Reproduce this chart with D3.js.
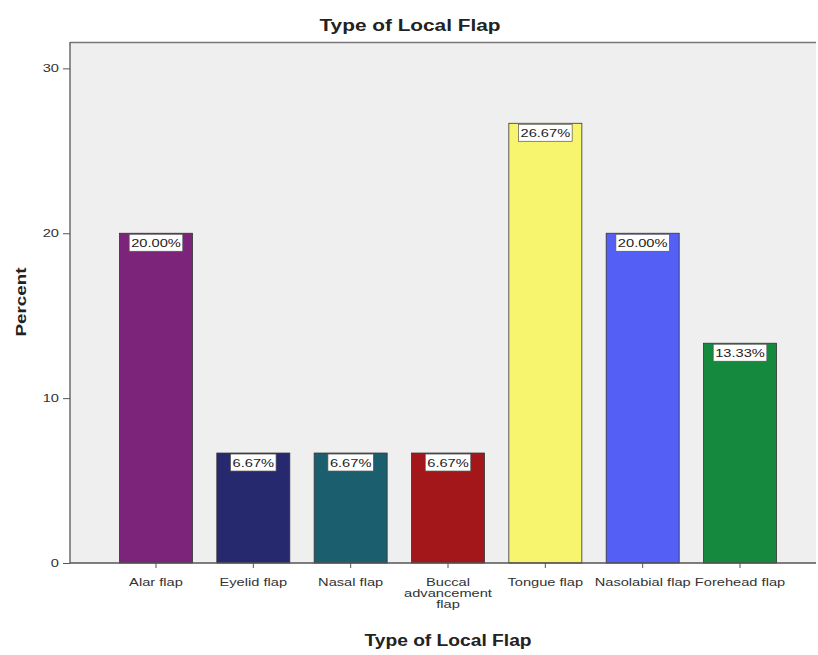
<!DOCTYPE html>
<html>
<head>
<meta charset="utf-8">
<script src="https://cdn.jsdelivr.net/npm/d3@7"></script>
<style>
  body { margin: 0; background: #fff; }
  text { font-family: Arial, "Liberation Sans", sans-serif; }
</style>
</head>
<body>
<script>
var width = 818;
var height = 655;

var categories = ["Alar flap", "Eyelid flap", "Nasal flap", "Buccal advancement flap", "Tongue flap", "Nasolabial flap", "Forehead flap"];
var catLines = [["Alar flap"], ["Eyelid flap"], ["Nasal flap"], ["Buccal", "advancement", "flap"], ["Tongue flap"], ["Nasolabial flap"], ["Forehead flap"]];
var percents = [20.00, 6.67, 6.67, 6.67, 26.67, 20.00, 13.33];
var colors = ["#7b2479", "#27296f", "#1b5e6e", "#a3171b", "#f7f56e", "#5460f5", "#15893e"];
var yTicks = [0, 10, 20, 30];

var plotLeft = 70, plotRight = 816, plotTop = 42, plotBottom = 563;
var stretchK = 1.33; // text in the picture is drawn wide

// widen text horizontally
function stretch(sel, k) {
    sel.each(function () {
        var w = this.getComputedTextLength();
        d3.select(this).attr("textLength", w * k).attr("lengthAdjust", "spacingAndGlyphs");
    });
}

var svg = d3.select("body").append("svg").attr("width", width).attr("height", height);

// plot background
svg.append("rect").attr("x", plotLeft).attr("y", plotTop)
    .attr("width", plotRight - plotLeft).attr("height", plotBottom - plotTop)
    .attr("fill", "#efefef");
svg.append("line").attr("x1", plotLeft).attr("x2", plotRight).attr("y1", plotTop + 0.5).attr("y2", plotTop + 0.5)
    .attr("stroke", "#777").attr("stroke-width", 1.5);

var y = d3.scaleLinear().domain([0, 31.6]).range([plotBottom, plotTop]);
var x = d3.scaleBand().domain(categories).range([107.3, 788.7]).paddingInner(0.25).paddingOuter(0.125);

// bars
svg.selectAll("rect.bar").data(percents).enter().append("rect")
    .attr("class", "bar")
    .attr("x", function (d, i) { return x(categories[i]); })
    .attr("y", function (d) { return y(d); })
    .attr("width", x.bandwidth())
    .attr("height", function (d) { return y(0) - y(d); })
    .attr("fill", function (d, i) { return colors[i]; })
    .attr("stroke", "#333")
    .attr("stroke-width", 0.8);

// value labels: white box sized to the text
var labels = svg.selectAll("g.lbl").data(percents).enter().append("g").attr("class", "lbl")
    .attr("transform", function (d, i) {
        return "translate(" + (x(categories[i]) + x.bandwidth() / 2) + "," + y(d) + ")";
    });
var boxes = labels.append("rect").attr("y", 1).attr("height", 17)
    .attr("fill", "#fff").attr("stroke", "#555").attr("stroke-width", 0.7);
labels.append("text").attr("y", 14).attr("text-anchor", "middle")
    .attr("font-size", "11px").attr("fill", "#222")
    .text(function (d) { return d.toFixed(2) + "%"; })
    .call(stretch, stretchK)
    .each(function () {
        var w = +d3.select(this).attr("textLength") + 4;
        d3.select(this.parentNode).select("rect").attr("x", -w / 2).attr("width", w);
    });

// y axis
var yAxis = d3.axisLeft(y).tickValues(yTicks).tickSize(7).tickPadding(4).tickSizeOuter(0);
var gy = svg.append("g").attr("transform", "translate(" + plotLeft + ",0)").call(yAxis);
gy.select(".domain").attr("stroke", "#555").attr("stroke-width", 1.3)
    .attr("d", "M0," + plotTop + "V" + plotBottom);
gy.selectAll(".tick line").attr("stroke", "#555");
gy.selectAll(".tick text").attr("font-size", "11px").attr("fill", "#333")
    .attr("font-family", "Arial, 'Liberation Sans', sans-serif")
    .call(stretch, stretchK);

// x axis
var xAxis = d3.axisBottom(x).tickSize(5).tickSizeOuter(0).tickFormat("");
var gx = svg.append("g").attr("transform", "translate(0," + plotBottom + ")").call(xAxis);
gx.select(".domain").attr("stroke", "#555").attr("stroke-width", 1.3)
    .attr("d", "M" + plotLeft + ",0H" + plotRight);
gx.selectAll(".tick line").attr("stroke", "#555");

// category labels, one text per line
catLines.forEach(function (lines, i) {
    var cx = x(categories[i]) + x.bandwidth() / 2;
    svg.selectAll(null).data(lines).enter().append("text")
        .attr("text-anchor", "middle").attr("font-size", "11px").attr("fill", "#333")
        .attr("x", cx)
        .attr("y", function (d, j) { return plotBottom + 23 + j * 11; })
        .text(function (d) { return d; })
        .call(stretch, stretchK);
});

// titles
svg.append("text").attr("x", 410).attr("y", 31).attr("text-anchor", "middle")
    .attr("font-size", "16px").attr("font-weight", "bold").attr("fill", "#222")
    .text("Type of Local Flap").call(stretch, 1.3);
svg.append("text").attr("x", 448).attr("y", 646).attr("text-anchor", "middle")
    .attr("font-size", "16px").attr("font-weight", "bold").attr("fill", "#222")
    .text("Type of Local Flap").call(stretch, 1.2);
svg.append("text").attr("transform", "translate(26,302) rotate(-90)").attr("text-anchor", "middle")
    .attr("font-size", "15px").attr("font-weight", "bold").attr("fill", "#222")
    .text("Percent").call(stretch, 1.25);
</script>
</body>
</html>
